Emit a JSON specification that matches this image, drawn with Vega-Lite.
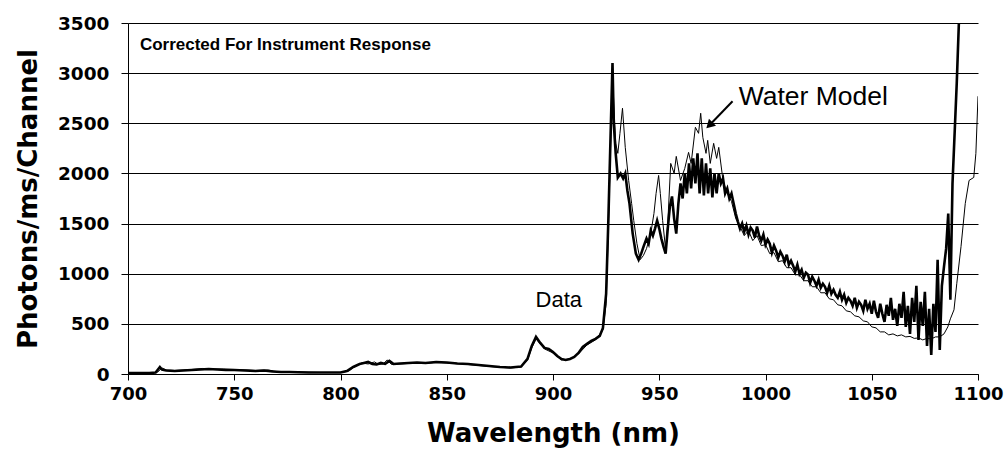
{
  "$schema": "https://vega.github.io/schema/vega-lite/v6.json",
  "width": 850,
  "height": 351,
  "autosize": {"type": "none"},
  "padding": {"left": 128, "top": 23, "right": 30, "bottom": 99},
  "background": "white",
  "config": {"view": {"stroke": null}},
  "datasets": {
    "data": [
      {"wl":700,"v":10},{"wl":705,"v":10},{"wl":710,"v":10},{"wl":713,"v":15},{"wl":715,"v":70},{"wl":716,"v":45},{"wl":718,"v":35},{"wl":722,"v":30},{"wl":726,"v":35},{"wl":730,"v":40},{"wl":734,"v":45},{"wl":738,"v":50},{"wl":742,"v":45},{"wl":746,"v":40},{"wl":750,"v":40},{"wl":755,"v":35},{"wl":760,"v":30},{"wl":764,"v":35},{"wl":768,"v":25},{"wl":772,"v":20},{"wl":776,"v":20},{"wl":780,"v":18},{"wl":785,"v":15},{"wl":790,"v":15},{"wl":795,"v":15},{"wl":800,"v":15},{"wl":803,"v":30},{"wl":806,"v":70},{"wl":809,"v":100},{"wl":811,"v":110},{"wl":813,"v":120},{"wl":815,"v":100},{"wl":817,"v":95},{"wl":819,"v":110},{"wl":821,"v":100},{"wl":823,"v":130},{"wl":825,"v":100},{"wl":828,"v":105},{"wl":832,"v":110},{"wl":836,"v":115},{"wl":840,"v":110},{"wl":845,"v":120},{"wl":850,"v":115},{"wl":855,"v":105},{"wl":860,"v":100},{"wl":865,"v":90},{"wl":870,"v":80},{"wl":875,"v":70},{"wl":880,"v":65},{"wl":885,"v":75},{"wl":888,"v":150},{"wl":890,"v":280},{"wl":892,"v":370},{"wl":894,"v":310},{"wl":896,"v":260},{"wl":898,"v":250},{"wl":900,"v":220},{"wl":902,"v":180},{"wl":904,"v":150},{"wl":906,"v":140},{"wl":908,"v":150},{"wl":910,"v":170},{"wl":912,"v":210},{"wl":914,"v":270},{"wl":916,"v":300},{"wl":918,"v":330},{"wl":920,"v":350},{"wl":922,"v":380},{"wl":923.5,"v":460},{"wl":925,"v":800},{"wl":926,"v":1500},{"wl":927,"v":2300},{"wl":928,"v":3100},{"wl":928.6,"v":2500},{"wl":929.5,"v":2200},{"wl":930.5,"v":1960},{"wl":931.8,"v":2000},{"wl":933,"v":1950},{"wl":934,"v":2000},{"wl":935,"v":1830},{"wl":936,"v":1700},{"wl":937.5,"v":1400},{"wl":939,"v":1200},{"wl":940.3,"v":1140},{"wl":941.5,"v":1200},{"wl":942.6,"v":1270},{"wl":944,"v":1350},{"wl":945,"v":1300},{"wl":946,"v":1430},{"wl":947,"v":1380},{"wl":948,"v":1450},{"wl":949,"v":1530},{"wl":950,"v":1450},{"wl":951,"v":1350},{"wl":952,"v":1270},{"wl":953,"v":1200},{"wl":954,"v":1450},{"wl":955,"v":1670},{"wl":956,"v":1770},{"wl":957,"v":1550},{"wl":958,"v":1400},{"wl":959,"v":1700},{"wl":960,"v":1900},{"wl":961,"v":1750},{"wl":962,"v":2000},{"wl":963,"v":1800},{"wl":964,"v":2100},{"wl":965,"v":1850},{"wl":966,"v":2150},{"wl":967,"v":1900},{"wl":968,"v":2200},{"wl":969,"v":1800},{"wl":970,"v":2150},{"wl":971,"v":1780},{"wl":972,"v":2100},{"wl":973,"v":1800},{"wl":974,"v":2050},{"wl":975,"v":1760},{"wl":976,"v":2000},{"wl":977,"v":1800},{"wl":978,"v":2000},{"wl":979,"v":1900},{"wl":980,"v":1950},{"wl":981,"v":1800},{"wl":982,"v":1850},{"wl":983,"v":1750},{"wl":984,"v":1800},{"wl":985,"v":1700},
      {"wl":986,"v":1600},{"wl":987,"v":1520},{"wl":988,"v":1450},{"wl":989,"v":1500},{"wl":990,"v":1420},{"wl":991,"v":1480},{"wl":992,"v":1390},{"wl":993,"v":1460},{"wl":994,"v":1430},{"wl":995,"v":1360},{"wl":996,"v":1470},{"wl":997,"v":1380},{"wl":998,"v":1330},{"wl":999,"v":1390},{"wl":1000,"v":1290},{"wl":1001,"v":1340},{"wl":1002,"v":1300},{"wl":1003,"v":1210},{"wl":1004,"v":1280},{"wl":1005,"v":1230},{"wl":1006,"v":1160},{"wl":1007,"v":1220},{"wl":1008,"v":1180},{"wl":1009,"v":1120},{"wl":1010,"v":1190},{"wl":1011,"v":1090},{"wl":1012,"v":1130},{"wl":1013,"v":1080},{"wl":1014,"v":1020},{"wl":1015,"v":1090},{"wl":1016,"v":1000},{"wl":1017,"v":1040},{"wl":1018,"v":960},{"wl":1019,"v":1010},{"wl":1020,"v":990},{"wl":1021,"v":910},{"wl":1022,"v":970},{"wl":1023,"v":930},{"wl":1024,"v":880},{"wl":1025,"v":940},{"wl":1026,"v":860},{"wl":1027,"v":900},{"wl":1028,"v":870},{"wl":1029,"v":810},{"wl":1030,"v":880},{"wl":1031,"v":800},{"wl":1032,"v":840},{"wl":1033,"v":790},{"wl":1034,"v":760},{"wl":1035,"v":820},{"wl":1036,"v":740},{"wl":1037,"v":790},{"wl":1038,"v":710},{"wl":1039,"v":760},{"wl":1040,"v":730},{"wl":1041,"v":680},{"wl":1042,"v":760},{"wl":1043,"v":660},{"wl":1044,"v":720},{"wl":1045,"v":690},{"wl":1046,"v":630},{"wl":1047,"v":740},{"wl":1048,"v":650},{"wl":1049,"v":700},{"wl":1050,"v":600},{"wl":1051,"v":730},{"wl":1052,"v":620},{"wl":1053,"v":560},{"wl":1054,"v":700},{"wl":1055,"v":600},{"wl":1056,"v":520},{"wl":1057,"v":690},{"wl":1058,"v":580},{"wl":1059,"v":760},{"wl":1060,"v":540},{"wl":1061,"v":650},{"wl":1062,"v":480},{"wl":1063,"v":700},{"wl":1064,"v":560},{"wl":1065,"v":820},{"wl":1066,"v":470},{"wl":1067,"v":680},{"wl":1068,"v":400},{"wl":1069,"v":760},{"wl":1070,"v":520},{"wl":1071,"v":880},{"wl":1072,"v":340},{"wl":1073,"v":720},{"wl":1074,"v":480},{"wl":1075,"v":820},{"wl":1076,"v":280},{"wl":1077,"v":650},{"wl":1078,"v":190},{"wl":1079,"v":700},{"wl":1080,"v":420},{"wl":1081,"v":1140},{"wl":1082,"v":240},{"wl":1083,"v":880},{"wl":1084,"v":1070},{"wl":1085,"v":1250},{"wl":1086,"v":1600},{"wl":1087,"v":740},{"wl":1088,"v":1900},{"wl":1089,"v":2400},{"wl":1090,"v":2900},{"wl":1091,"v":3500}
    ],
    "model": [
      {"wl":700,"v":5},{"wl":710,"v":5},{"wl":714,"v":20},{"wl":716,"v":60},{"wl":718,"v":40},{"wl":722,"v":35},{"wl":730,"v":45},{"wl":735,"v":55},{"wl":740,"v":50},{"wl":745,"v":50},{"wl":750,"v":45},{"wl":756,"v":40},{"wl":760,"v":35},{"wl":766,"v":40},{"wl":770,"v":25},{"wl":780,"v":20},{"wl":790,"v":15},{"wl":800,"v":15},{"wl":804,"v":30},{"wl":807,"v":80},{"wl":810,"v":110},{"wl":813,"v":100},{"wl":816,"v":120},{"wl":818,"v":95},{"wl":820,"v":100},{"wl":822,"v":140},{"wl":824,"v":95},{"wl":828,"v":100},{"wl":835,"v":110},{"wl":840,"v":105},{"wl":845,"v":115},{"wl":850,"v":110},{"wl":860,"v":95},{"wl":870,"v":75},{"wl":880,"v":60},{"wl":885,"v":70},{"wl":888,"v":140},{"wl":890,"v":260},{"wl":892,"v":350},{"wl":894,"v":300},{"wl":896,"v":250},{"wl":900,"v":210},{"wl":904,"v":140},{"wl":908,"v":150},{"wl":912,"v":200},{"wl":916,"v":290},{"wl":920,"v":340},{"wl":923.5,"v":440},{"wl":925,"v":700},{"wl":926,"v":1400},{"wl":927,"v":2200},{"wl":928,"v":3000},{"wl":928.6,"v":2700},{"wl":929.5,"v":2300},{"wl":930.5,"v":2200},{"wl":931.5,"v":2400},{"wl":932.7,"v":2650},{"wl":934,"v":2260},{"wl":935.6,"v":1930},{"wl":937,"v":1700},{"wl":938,"v":1530},{"wl":939.5,"v":1300},{"wl":941,"v":1140},{"wl":942.5,"v":1180},{"wl":944,"v":1250},{"wl":946,"v":1400},{"wl":947.5,"v":1600},{"wl":948.5,"v":1800},{"wl":949.7,"v":1980},{"wl":950.5,"v":1800},{"wl":951.6,"v":1530},{"wl":953,"v":1240},{"wl":954,"v":1500},{"wl":955.4,"v":2100},{"wl":957,"v":2000},{"wl":958,"v":2170},{"wl":960,"v":1930},{"wl":962,"v":2050},{"wl":963.8,"v":2210},{"wl":965,"v":2100},{"wl":967,"v":2460},{"wl":968.5,"v":2400},{"wl":969.5,"v":2600},{"wl":970.5,"v":2360},{"wl":972,"v":2200},{"wl":972.8,"v":2330},{"wl":974,"v":2100},{"wl":975.6,"v":2300},{"wl":977,"v":2150},{"wl":978,"v":2260},{"wl":980,"v":1930},{"wl":982,"v":1800},{"wl":984,"v":1720},
      {"wl":986,"v":1550},{"wl":988,"v":1470},{"wl":990,"v":1380},{"wl":992,"v":1430},{"wl":994,"v":1330},{"wl":996,"v":1380},{"wl":998,"v":1280},{"wl":1000,"v":1290},{"wl":1002,"v":1200},{"wl":1004,"v":1210},{"wl":1006,"v":1120},{"wl":1008,"v":1130},{"wl":1010,"v":1060},{"wl":1012,"v":1060},{"wl":1014,"v":990},{"wl":1016,"v":990},{"wl":1018,"v":930},{"wl":1020,"v":930},{"wl":1022,"v":870},{"wl":1024,"v":870},{"wl":1026,"v":810},{"wl":1028,"v":810},{"wl":1030,"v":750},{"wl":1032,"v":740},{"wl":1034,"v":690},{"wl":1036,"v":680},{"wl":1038,"v":630},{"wl":1040,"v":620},{"wl":1042,"v":580},{"wl":1044,"v":570},{"wl":1046,"v":530},{"wl":1048,"v":520},{"wl":1050,"v":470},{"wl":1052,"v":460},{"wl":1054,"v":420},{"wl":1056,"v":420},{"wl":1058,"v":390},{"wl":1060,"v":400},{"wl":1062,"v":380},{"wl":1064,"v":390},{"wl":1066,"v":370},{"wl":1068,"v":375},{"wl":1070,"v":355},{"wl":1072,"v":360},{"wl":1074,"v":340},{"wl":1076,"v":355},{"wl":1078,"v":350},{"wl":1080,"v":370},{"wl":1082,"v":370},{"wl":1084,"v":400},{"wl":1085.8,"v":470},{"wl":1087,"v":550},{"wl":1088.7,"v":640},{"wl":1090,"v":900},{"wl":1092,"v":1270},{"wl":1094,"v":1700},{"wl":1095.8,"v":1930},{"wl":1098,"v":1960},{"wl":1099,"v":2200},{"wl":1100,"v":2770}
    ],
    "labels": [
      {"wl":705.6,"v":3280,"text":"Corrected For Instrument Response","kind":"title"},
      {"wl":987.4,"v":2760,"text":"Water Model","kind":"note"},
      {"wl":891.8,"v":740,"text":"Data","kind":"note"}
    ],
    "arrow": [
      {"wl":984.5,"v":2720,"wl2":973.6,"v2":2480}
    ]
  },
  "layer": [
    {
      "data": {"name": "model"},
      "mark": {"type": "line", "color": "black", "strokeWidth": 1, "clip": true},
      "encoding": {
        "x": {
          "field": "wl", "type": "quantitative",
          "scale": {"domain": [700, 1100], "nice": false, "zero": false},
          "axis": {
            "values": [700,750,800,850,900,950,1000,1050,1100],
            "format": "d",
            "title": "Wavelength (nm)",
            "grid": false,
            "domainColor": "black", "tickColor": "black", "tickSize": 6,
            "labelFont": "DejaVu Sans", "labelFontWeight": "bold", "labelFontSize": 18, "labelColor": "black",
            "labelPadding": 5, "labelOverlap": false, "labelFlush": false,
            "titleFont": "DejaVu Sans", "titleFontWeight": "bold", "titleFontSize": 26, "titleColor": "black",
            "titlePadding": 17
          }
        },
        "y": {
          "field": "v", "type": "quantitative",
          "scale": {"domain": [0, 3500], "nice": false},
          "axis": {
            "values": [0,500,1000,1500,2000,2500,3000,3500],
            "format": "d",
            "title": "Photons/ms/Channel",
            "grid": true, "gridColor": "black", "gridWidth": 1, "gridOpacity": 1,
            "domainColor": "black", "tickColor": "black", "tickSize": 7,
            "labelFont": "DejaVu Sans", "labelFontWeight": "bold", "labelFontSize": 18.5, "labelColor": "black",
            "labelPadding": 12, "labelOverlap": false, "labelFlush": false,
            "titleFont": "DejaVu Sans", "titleFontWeight": "bold", "titleFontSize": 26, "titleColor": "black",
            "titlePadding": 16
          }
        }
      }
    },
    {
      "data": {"name": "data"},
      "mark": {"type": "line", "color": "black", "strokeWidth": 2.6, "clip": true},
      "encoding": {
        "x": {"field": "wl", "type": "quantitative"},
        "y": {"field": "v", "type": "quantitative"}
      }
    },
    {
      "data": {"name": "arrow"},
      "mark": {"type": "rule", "color": "black", "strokeWidth": 2},
      "encoding": {
        "x": {"field": "wl", "type": "quantitative"},
        "y": {"field": "v", "type": "quantitative"},
        "x2": {"field": "wl2"},
        "y2": {"field": "v2"}
      }
    },
    {
      "data": {"name": "arrow"},
      "mark": {"type": "point", "shape": "triangle-up", "filled": true, "color": "black", "size": 100, "angle": 225, "opacity": 1},
      "encoding": {
        "x": {"field": "wl2", "type": "quantitative"},
        "y": {"field": "v2", "type": "quantitative"}
      }
    },
    {
      "data": {"name": "labels"},
      "transform": [{"filter": "datum.kind == 'title'"}],
      "mark": {"type": "text", "align": "left", "baseline": "middle", "font": "Liberation Sans", "fontWeight": "bold", "fontSize": 17, "color": "black"},
      "encoding": {
        "x": {"field": "wl", "type": "quantitative"},
        "y": {"field": "v", "type": "quantitative"},
        "text": {"field": "text"}
      }
    },
    {
      "data": {"name": "labels"},
      "transform": [{"filter": "datum.kind == 'note'"}],
      "mark": {"type": "text", "align": "left", "baseline": "middle", "font": "Liberation Sans", "fontSize": 22, "color": "black"},
      "encoding": {
        "x": {"field": "wl", "type": "quantitative"},
        "y": {"field": "v", "type": "quantitative"},
        "text": {"field": "text", "type": "nominal"},
        "size": {"condition": {"test": "datum.text == 'Water Model'", "value": 26.5}, "value": 22}
      }
    }
  ]
}
